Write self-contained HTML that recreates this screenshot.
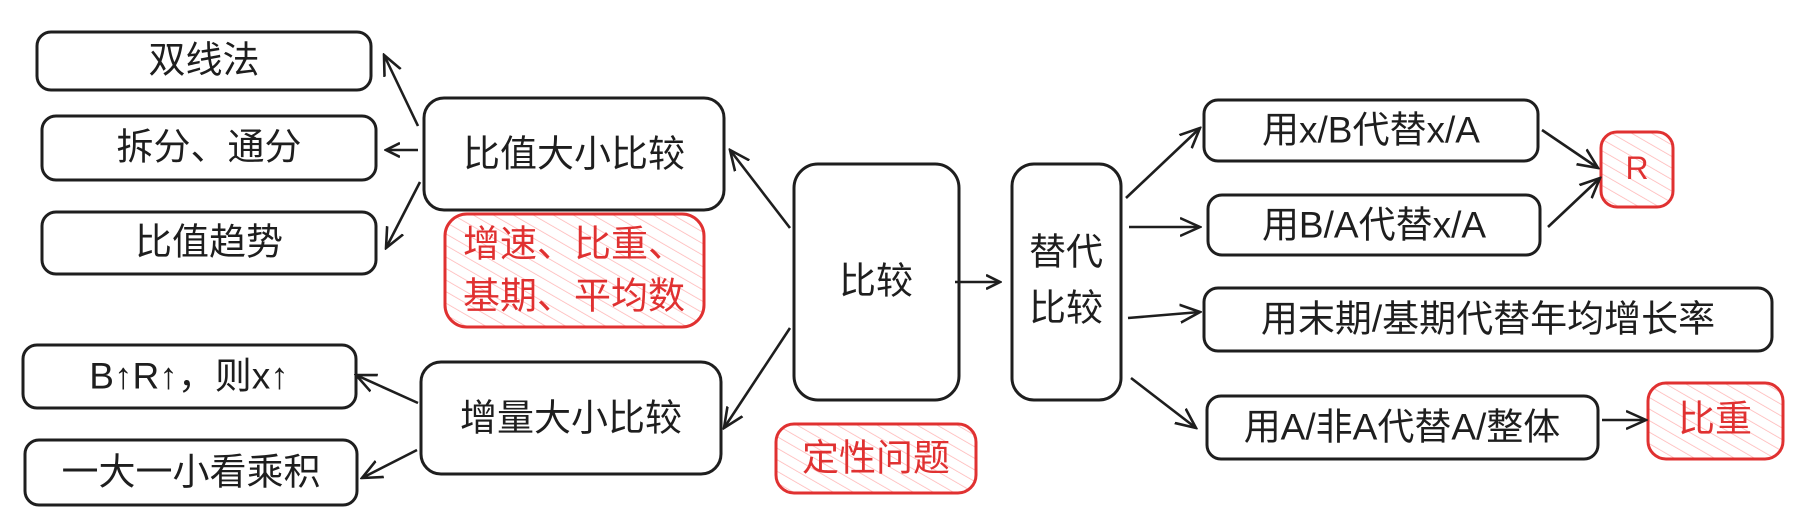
<!DOCTYPE html>
<html><head><meta charset="utf-8"><style>
html,body{margin:0;padding:0;background:#fff;width:1816px;height:525px;overflow:hidden}
svg text{font-family:"Liberation Sans","Noto Sans CJK SC",sans-serif;text-anchor:middle;dominant-baseline:central}
</style></head><body>
<svg width="1816" height="525" viewBox="0 0 1816 525" xmlns="http://www.w3.org/2000/svg">
<defs>
<pattern id="h" width="10" height="10" patternUnits="userSpaceOnUse" patternTransform="rotate(-60)">
<line x1="0" y1="0" x2="0" y2="10" stroke="#ffb3b3" stroke-width="1.5"/>
</pattern>
<marker id="a" markerWidth="16" markerHeight="16" refX="14" refY="8" orient="auto" markerUnits="userSpaceOnUse">
<path d="M0,1 L14,8 L0,15" fill="none" stroke="#1e1e1e" stroke-width="2.6"/>
</marker>
<marker id="a2" markerWidth="22" markerHeight="22" refX="20" refY="11" orient="auto" markerUnits="userSpaceOnUse">
<path d="M0,2 L20,11 L0,20" fill="none" stroke="#1e1e1e" stroke-width="2.6"/>
</marker>
</defs>
<g fill="none" stroke="#1e1e1e" stroke-width="3">
<rect x="37" y="32" width="334" height="58" rx="14"/>
<rect x="42" y="116" width="334" height="64" rx="14"/>
<rect x="42" y="212" width="334" height="62" rx="14"/>
<rect x="424" y="98" width="300" height="112" rx="20"/>
<rect x="794" y="164" width="165" height="236" rx="24"/>
<rect x="23" y="345" width="333" height="63" rx="14"/>
<rect x="25" y="440" width="332" height="65" rx="14"/>
<rect x="421" y="362" width="300" height="112" rx="20"/>
<rect x="1012" y="164" width="109" height="236" rx="22"/>
<rect x="1204" y="100" width="334" height="61" rx="14"/>
<rect x="1208" y="195" width="332" height="60" rx="14"/>
<rect x="1204" y="288" width="568" height="63" rx="14"/>
<rect x="1207" y="396" width="391" height="63" rx="14"/>
</g>
<g stroke="#e03131" stroke-width="3" fill="url(#h)">
<rect x="445" y="214" width="259" height="113" rx="22"/>
<rect x="776" y="424" width="200" height="69" rx="18"/>
<rect x="1601" y="132" width="72" height="75" rx="16"/>
<rect x="1648" y="383" width="135" height="76" rx="18"/>
</g>
<g stroke="#1e1e1e" stroke-width="2.6" fill="none">
<line x1="418" y1="126" x2="384" y2="55" marker-end="url(#a2)"/>
<line x1="418" y1="150" x2="386" y2="150" marker-end="url(#a)"/>
<line x1="420" y1="182" x2="386" y2="248" marker-end="url(#a2)"/>
<line x1="790" y1="228" x2="730" y2="150" marker-end="url(#a2)"/>
<line x1="790" y1="328" x2="724" y2="428" marker-end="url(#a2)"/>
<line x1="418" y1="403" x2="356" y2="375" marker-end="url(#a2)"/>
<line x1="417" y1="450" x2="362" y2="478" marker-end="url(#a2)"/>
<line x1="955" y1="282" x2="1000" y2="282" marker-end="url(#a)"/>
<line x1="1126" y1="198" x2="1200" y2="128" marker-end="url(#a2)"/>
<line x1="1129" y1="227" x2="1200" y2="227" marker-end="url(#a2)"/>
<line x1="1128" y1="318" x2="1200" y2="312" marker-end="url(#a2)"/>
<line x1="1131" y1="378" x2="1196" y2="428" marker-end="url(#a2)"/>
<line x1="1542" y1="130" x2="1598" y2="168" marker-end="url(#a2)"/>
<line x1="1548" y1="227" x2="1600" y2="178" marker-end="url(#a2)"/>
<line x1="1602" y1="420" x2="1646" y2="420" marker-end="url(#a2)"/>
</g>
<g fill="#1e1e1e" font-size="37">
<text x="204" y="60">双线法</text>
<text x="209" y="147">拆分、通分</text>
<text x="209" y="242">比值趋势</text>
<text x="574" y="154">比值大小比较</text>
<text x="876" y="281">比较</text>
<text x="189" y="376">B↑R↑，则x↑</text>
<text x="191" y="472">一大一小看乘积</text>
<text x="571" y="418">增量大小比较</text>
<text x="1066" y="252">替代</text>
<text x="1066" y="308">比较</text>
<text x="1371" y="130">用x/B代替x/A</text>
<text x="1374" y="225">用B/A代替x/A</text>
<text x="1488" y="319">用末期/基期代替年均增长率</text>
<text x="1402" y="427">用A/非A代替A/整体</text>
</g>
<g fill="#e03131" font-size="37">
<text x="574" y="244">增速、比重、</text>
<text x="574" y="296">基期、平均数</text>
<text x="876" y="458">定性问题</text>
<text x="1637" y="168" font-size="32">R</text>
<text x="1715" y="419">比重</text>
</g>
</svg>
</body></html>
